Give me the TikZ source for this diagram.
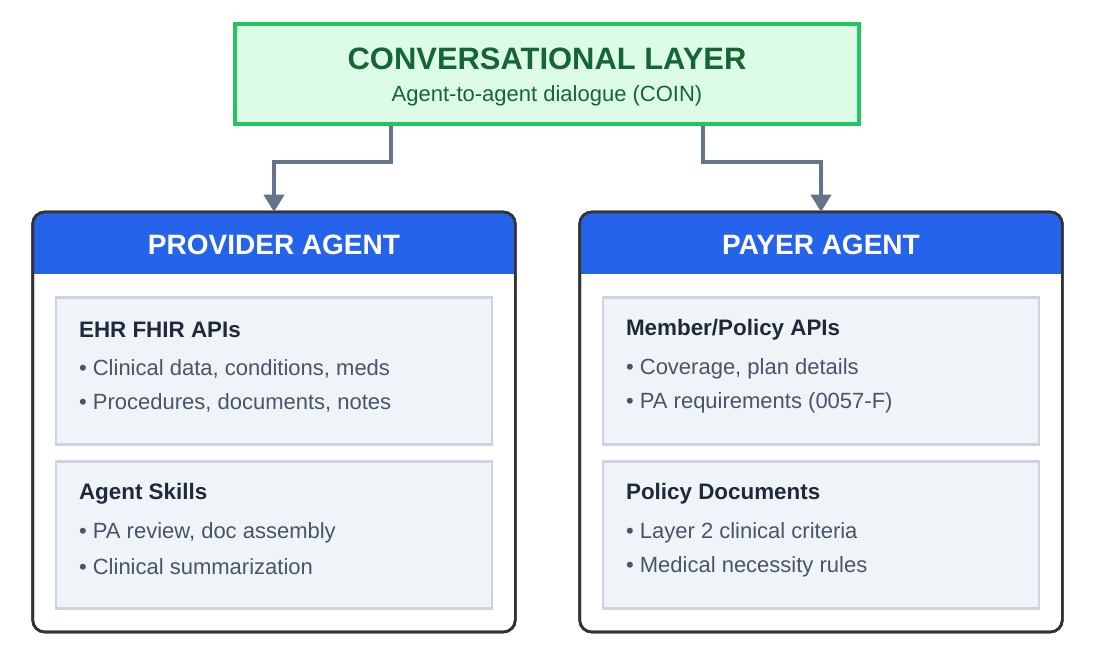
\documentclass[tikz,border=0pt]{standalone}
\usepackage{fontspec}
\setmainfont{Liberation Sans}
\usetikzlibrary{calc,arrows.meta,positioning}
\definecolor{convline}{HTML}{22C55E}
\definecolor{convfill}{HTML}{DCFCE7}
\definecolor{convtext}{HTML}{166534}
\definecolor{agentblue}{HTML}{2563EB}
\definecolor{framegray}{HTML}{333333}
\definecolor{linkgray}{HTML}{64748B}
\definecolor{cardfill}{HTML}{F0F4F8}
\definecolor{cardline}{HTML}{CBD5E1}
\definecolor{headtext}{HTML}{1E293B}
\definecolor{itemtext}{HTML}{475569}
\newcommand{\fs}[1]{\fontsize{#1}{1.2\dimexpr#1pt\relax}\selectfont}

\tikzset{
  convbox/.style={draw=convline, fill=convfill, line width=3pt, inner sep=0pt,
    minimum width=468pt, minimum height=75pt},
  agentbox/.style={draw=framegray, fill=white, line width=2pt, rounded corners=9pt,
    inner sep=0pt, outer sep=0pt, minimum width=362pt, minimum height=315pt},
  card/.style={draw=cardline, fill=cardfill, line width=1.8pt, inner sep=0pt,
    minimum width=327pt, minimum height=110pt},
  cardhead/.style={anchor=west, inner sep=0pt, text=headtext, font=\fs{16.8}\bfseries},
  item/.style={anchor=west, inner sep=0pt, text=itemtext, font=\fs{16.5}},
  agenttitle/.style={inner sep=0pt, text=white, font=\fs{21}\bfseries},
  link/.style={draw=linkgray, line width=3pt, -{Triangle[length=13pt,width=15pt]}}
}

\begin{document}
\begin{tikzpicture}[x=0.75pt,y=-0.75pt]
  \useasboundingbox (0,0) rectangle (1093,656);

  % conversational layer
  \node[convbox] (conv) at (547,74.5) {};
  \node[inner sep=0pt, text=convtext, font=\fs{23.2}\bfseries] (convT) at (547,59) {CONVERSATIONAL LAYER};
  \node[inner sep=0pt, text=convtext, font=\fs{16.5}] (convS) at (547,96) {Agent-to-agent dialogue (COIN)};

  % agents
  \node[agentbox] (prov) at (274,422) {};
  \node[agentbox] (payer) at (821,422) {};
  \foreach \a in {prov,payer} {
    \begin{scope}
      \clip[rounded corners=9pt] (\a.north west) rectangle (\a.south east);
      \fill[agentblue] (\a.north west) rectangle ($(\a.north east)+(0,62)$);
    \end{scope}
    \draw[framegray, line width=2pt, rounded corners=9pt] (\a.north west) rectangle (\a.south east);
  }
  \node[agenttitle] (provT) at ($(prov.north)+(0,33)$) {PROVIDER AGENT};
  \node[agenttitle] (payerT) at ($(payer.north)+(0,33)$) {PAYER AGENT};

  % provider cards
  \node[card] (ehr) at (274,371) {};
  \node[cardhead] (ehrH) at ($(ehr.north west)+(24,33)$) {EHR FHIR APIs};
  \node[item] (ehrA) at ($(ehr.north west)+(24,72)$) {• Clinical data, conditions, meds};
  \node[item] (ehrB) at ($(ehr.north west)+(24,106)$) {• Procedures, documents, notes};

  \node[card] (skills) at (274,535) {};
  \node[cardhead] (skillsH) at ($(skills.north west)+(24,33)$) {Agent Skills};
  \node[item] (skillsA) at ($(skills.north west)+(24,72)$) {• PA review, doc assembly};
  \node[item] (skillsB) at ($(skills.north west)+(24,106)$) {• Clinical summarization};

  % payer cards
  \node[card] (member) at (821,371) {};
  \node[cardhead] (memberH) at ($(member.north west)+(24,33)$) {Member/Policy APIs};
  \node[item] (memberA) at ($(member.north west)+(24,72)$) {• Coverage, plan details};
  \node[item] (memberB) at ($(member.north west)+(24,106)$) {• PA requirements (0057-F)};

  \node[card] (policy) at (821,535) {};
  \node[cardhead] (policyH) at ($(policy.north west)+(24,33)$) {Policy Documents};
  \node[item] (policyA) at ($(policy.north west)+(24,72)$) {• Layer 2 clinical criteria};
  \node[item] (policyB) at ($(policy.north west)+(24,106)$) {• Medical necessity rules};

  % links
  \coordinate (outL) at ($(conv.south)+(-156,0)$);
  \coordinate (outR) at ($(conv.south)+(156,0)$);
  \draw[link] (outL) -- ++(0,36) -| (prov.north);
  \draw[link] (outR) -- ++(0,36) -| (payer.north);
\end{tikzpicture}
\end{document}
